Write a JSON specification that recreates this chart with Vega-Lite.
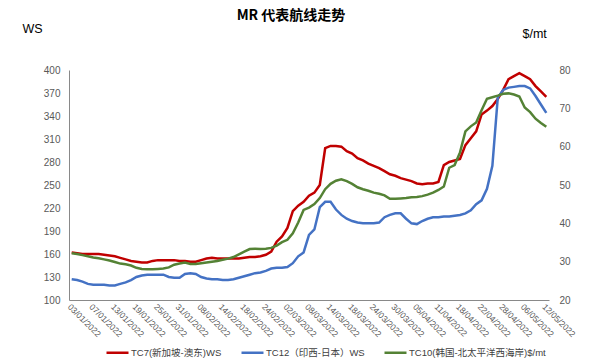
{
  "$schema": "https://vega.github.io/schema/vega-lite/v6.json",
  "width": 480,
  "height": 230,
  "autosize": {"type": "none"},
  "padding": {"left": 69, "top": 70, "right": 44, "bottom": 64},
  "background": "white",
  "title": {"text": "MR 代表航线走势", "font": "Noto Sans CJK SC", "fontSize": 14, "fontWeight": "bold", "color": "#000000", "anchor": "middle", "frame": "group", "dx": -18, "offset": 0, "dy": 1},
  "config": {"view": {"stroke": null}, "axis": {"grid": false, "labelFont": "Liberation Sans", "titleFont": "Liberation Sans"}},
  "data": {"values": [
    {"d":"03/01/2022","TC7":162,"TC12":127,"TC10":32.2},
    {"d":"04/01/2022","TC7":161,"TC12":126,"TC10":32.0},
    {"d":"05/01/2022","TC7":160,"TC12":124,"TC10":31.7},
    {"d":"06/01/2022","TC7":160,"TC12":121,"TC10":31.4},
    {"d":"07/01/2022","TC7":160,"TC12":120,"TC10":31.1},
    {"d":"10/01/2022","TC7":160,"TC12":120,"TC10":30.9},
    {"d":"11/01/2022","TC7":159,"TC12":120,"TC10":30.6},
    {"d":"12/01/2022","TC7":158,"TC12":119,"TC10":30.3},
    {"d":"13/01/2022","TC7":157,"TC12":119,"TC10":29.9},
    {"d":"14/01/2022","TC7":155,"TC12":121,"TC10":29.5},
    {"d":"17/01/2022","TC7":153,"TC12":123,"TC10":29.3},
    {"d":"18/01/2022","TC7":151,"TC12":126,"TC10":29.0},
    {"d":"19/01/2022","TC7":150,"TC12":130,"TC10":28.4},
    {"d":"20/01/2022","TC7":149,"TC12":132,"TC10":28.1},
    {"d":"21/01/2022","TC7":149,"TC12":133,"TC10":28.0},
    {"d":"24/01/2022","TC7":151,"TC12":133,"TC10":28.0},
    {"d":"25/01/2022","TC7":152,"TC12":133,"TC10":28.1},
    {"d":"26/01/2022","TC7":152,"TC12":133,"TC10":28.2},
    {"d":"27/01/2022","TC7":152,"TC12":130,"TC10":28.5},
    {"d":"28/01/2022","TC7":152,"TC12":129,"TC10":29.2},
    {"d":"31/01/2022","TC7":151,"TC12":129,"TC10":29.5},
    {"d":"01/02/2022","TC7":151,"TC12":134,"TC10":29.8},
    {"d":"02/02/2022","TC7":150,"TC12":135,"TC10":29.4},
    {"d":"07/02/2022","TC7":150,"TC12":134,"TC10":29.4},
    {"d":"08/02/2022","TC7":152,"TC12":130,"TC10":29.6},
    {"d":"09/02/2022","TC7":154,"TC12":128,"TC10":29.8},
    {"d":"10/02/2022","TC7":155,"TC12":127,"TC10":30.0},
    {"d":"11/02/2022","TC7":154,"TC12":127,"TC10":30.2},
    {"d":"14/02/2022","TC7":154,"TC12":126,"TC10":30.5},
    {"d":"15/02/2022","TC7":154,"TC12":126,"TC10":30.8},
    {"d":"16/02/2022","TC7":154,"TC12":127,"TC10":31.2},
    {"d":"17/02/2022","TC7":154,"TC12":129,"TC10":31.9},
    {"d":"18/02/2022","TC7":155,"TC12":131,"TC10":32.6},
    {"d":"21/02/2022","TC7":156,"TC12":133,"TC10":33.3},
    {"d":"22/02/2022","TC7":156,"TC12":135,"TC10":33.4},
    {"d":"23/02/2022","TC7":157,"TC12":136,"TC10":33.3},
    {"d":"24/02/2022","TC7":159,"TC12":138,"TC10":33.4},
    {"d":"25/02/2022","TC7":163,"TC12":141,"TC10":33.6},
    {"d":"28/02/2022","TC7":176,"TC12":142,"TC10":34.2},
    {"d":"01/03/2022","TC7":183,"TC12":142,"TC10":35.1},
    {"d":"02/03/2022","TC7":194,"TC12":143,"TC10":35.7},
    {"d":"03/03/2022","TC7":216,"TC12":148,"TC10":37.4},
    {"d":"04/03/2022","TC7":223,"TC12":157,"TC10":40.2},
    {"d":"07/03/2022","TC7":228,"TC12":162,"TC10":43.5},
    {"d":"08/03/2022","TC7":236,"TC12":185,"TC10":44.1},
    {"d":"09/03/2022","TC7":240,"TC12":192,"TC10":45.0},
    {"d":"10/03/2022","TC7":250,"TC12":221,"TC10":46.6},
    {"d":"11/03/2022","TC7":298,"TC12":228,"TC10":48.9},
    {"d":"14/03/2022","TC7":301,"TC12":228,"TC10":50.3},
    {"d":"15/03/2022","TC7":301,"TC12":218,"TC10":51.1},
    {"d":"16/03/2022","TC7":300,"TC12":211,"TC10":51.5},
    {"d":"17/03/2022","TC7":294,"TC12":206,"TC10":51.0},
    {"d":"18/03/2022","TC7":291,"TC12":203,"TC10":50.3},
    {"d":"21/03/2022","TC7":285,"TC12":201,"TC10":49.4},
    {"d":"22/03/2022","TC7":282,"TC12":200,"TC10":48.9},
    {"d":"23/03/2022","TC7":278,"TC12":200,"TC10":48.5},
    {"d":"24/03/2022","TC7":275,"TC12":200,"TC10":48.0},
    {"d":"25/03/2022","TC7":272,"TC12":201,"TC10":47.7},
    {"d":"28/03/2022","TC7":268,"TC12":208,"TC10":47.3},
    {"d":"29/03/2022","TC7":264,"TC12":211,"TC10":46.4},
    {"d":"30/03/2022","TC7":262,"TC12":213,"TC10":46.4},
    {"d":"31/03/2022","TC7":259,"TC12":213,"TC10":46.5},
    {"d":"01/04/2022","TC7":257,"TC12":206,"TC10":46.6},
    {"d":"04/04/2022","TC7":255,"TC12":200,"TC10":46.8},
    {"d":"05/04/2022","TC7":252,"TC12":199,"TC10":46.9},
    {"d":"06/04/2022","TC7":251,"TC12":203,"TC10":47.1},
    {"d":"07/04/2022","TC7":252,"TC12":206,"TC10":47.5},
    {"d":"08/04/2022","TC7":252,"TC12":208,"TC10":48.0},
    {"d":"11/04/2022","TC7":254,"TC12":208,"TC10":48.7},
    {"d":"12/04/2022","TC7":276,"TC12":209,"TC10":49.6},
    {"d":"13/04/2022","TC7":280,"TC12":209,"TC10":54.5},
    {"d":"14/04/2022","TC7":282,"TC12":210,"TC10":55.2},
    {"d":"18/04/2022","TC7":284,"TC12":211,"TC10":58.5},
    {"d":"19/04/2022","TC7":302,"TC12":213,"TC10":64.0},
    {"d":"20/04/2022","TC7":311,"TC12":217,"TC10":65.3},
    {"d":"21/04/2022","TC7":320,"TC12":225,"TC10":66.3},
    {"d":"22/04/2022","TC7":342,"TC12":230,"TC10":69.5},
    {"d":"25/04/2022","TC7":347,"TC12":245,"TC10":72.5},
    {"d":"26/04/2022","TC7":353,"TC12":275,"TC10":72.9},
    {"d":"27/04/2022","TC7":362,"TC12":364,"TC10":73.3},
    {"d":"28/04/2022","TC7":374,"TC12":374,"TC10":73.8},
    {"d":"29/04/2022","TC7":388,"TC12":377,"TC10":73.9},
    {"d":"04/05/2022","TC7":392,"TC12":378,"TC10":73.6},
    {"d":"05/05/2022","TC7":396,"TC12":379,"TC10":73.1},
    {"d":"06/05/2022","TC7":392,"TC12":379,"TC10":70.2},
    {"d":"09/05/2022","TC7":388,"TC12":376,"TC10":69.0},
    {"d":"10/05/2022","TC7":379,"TC12":366,"TC10":67.3},
    {"d":"11/05/2022","TC7":372,"TC12":355,"TC10":66.2},
    {"d":"12/05/2022","TC7":365,"TC12":344,"TC10":65.2}
  ]},
  "transform": [{"fold": ["TC7", "TC12", "TC10"], "as": ["series", "value"]}],
  "encoding": {
    "x": {
      "field": "d", "type": "ordinal", "sort": null,
      "scale": {"type": "point", "padding": 0.5},
      "axis": {
        "title": null,
        "values": ["03/01/2022","07/01/2022","13/01/2022","19/01/2022","25/01/2022","31/01/2022","08/02/2022","14/02/2022","18/02/2022","24/02/2022","02/03/2022","08/03/2022","14/03/2022","18/03/2022","24/03/2022","30/03/2022","05/04/2022","11/04/2022","18/04/2022","22/04/2022","28/04/2022","06/05/2022","12/05/2022"],
        "labelAngle": 45, "labelAlign": "left", "labelBaseline": "top",
        "labelFontSize": 8.5, "labelColor": "#595959", "labelPadding": 2,
        "ticks": false, "domainColor": "#898989", "domainWidth": 1, "labelOverlap": false
      }
    },
    "color": {
      "field": "series", "type": "nominal",
      "scale": {"domain": ["TC7", "TC12", "TC10"], "range": ["#C00000", "#4472C4", "#548235"]},
      "legend": {
        "orient": "none", "direction": "horizontal", "legendX": 36, "legendY": 270,
        "title": null, "symbolType": "stroke", "symbolSize": 484, "symbolStrokeWidth": 2.5,
        "labelFont": "Liberation Sans, Noto Sans CJK SC", "labelFontSize": 9.5, "labelColor": "#404040",
        "labelOffset": 1, "columnPadding": 14,
        "labelExpr": "datum.label == 'TC7' ? 'TC7(新加坡-澳东)WS' : datum.label == 'TC12' ? 'TC12（印西-日本）WS' : 'TC10(韩国-北太平洋西海岸)$/mt'"
      }
    }
  },
  "layer": [
    {
      "transform": [{"filter": "datum.series !== 'TC10'"}],
      "mark": {"type": "line", "strokeWidth": 2.5},
      "encoding": {
        "y": {
          "field": "value", "type": "quantitative",
          "scale": {"domain": [100, 400], "nice": false, "zero": false},
          "axis": {
            "values": [100,130,160,190,220,250,280,310,340,370,400],
            "labelFontSize": 10, "labelColor": "#595959", "labelPadding": 9,
            "ticks": false, "domain": true, "domainColor": "#898989",
            "title": "WS", "titleAngle": 0, "titleX": -47, "titleY": -42,
            "titleAlign": "left", "titleBaseline": "middle",
            "titleFontSize": 12.5, "titleFontWeight": "normal", "titleColor": "#000000"
          }
        }
      }
    },
    {
      "transform": [{"filter": "datum.series === 'TC10'"}],
      "mark": {"type": "line", "strokeWidth": 2.5},
      "encoding": {
        "y": {
          "field": "value", "type": "quantitative",
          "scale": {"domain": [20, 80], "nice": false, "zero": false},
          "axis": {
            "orient": "right",
            "values": [20,30,40,50,60,70,80],
            "labelFontSize": 10, "labelColor": "#595959", "labelPadding": 10,
            "ticks": false, "domain": false,
            "title": "$/mt", "titleAngle": 0, "titleX": -27, "titleY": -37,
            "titleAlign": "left", "titleBaseline": "middle",
            "titleFontSize": 12.5, "titleFontWeight": "normal", "titleColor": "#000000"
          }
        }
      }
    }
  ],
  "resolve": {"scale": {"y": "independent"}}
}
